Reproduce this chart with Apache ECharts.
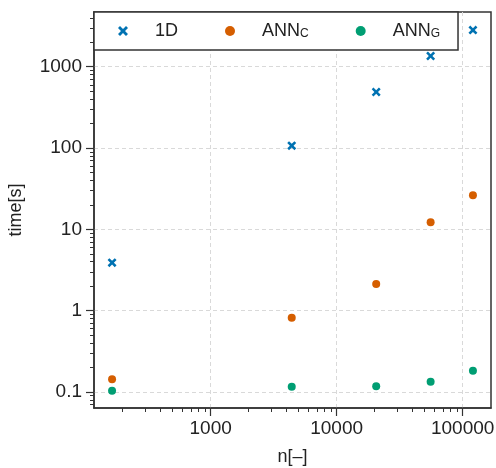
<!DOCTYPE html>
<html>
<head>
<meta charset="utf-8">
<script src="https://cdn.jsdelivr.net/npm/echarts@6/dist/echarts.min.js"></script>
<style>
html, body { margin: 0; padding: 0; background: #fff; }
#chart { width: 496px; height: 468px; }
</style>
</head>
<body>
<div id="chart"></div>
<script>
// data
var seriesNames = ['1D', 'ANN_C', 'ANN_G'];
var nValues = [165, 4400, 20600, 55700, 120700];
var time1D = [3.9, 107, 489, 1353, 2820];
var timeANNC = [0.144, 0.82, 2.13, 12.2, 26.2];
var timeANNG = [0.104, 0.116, 0.118, 0.134, 0.183];

var xTicks = [1000, 10000, 100000];
var yTicks = [0.1, 1, 10, 100, 1000];
var xRange = [118.6, 167900];
var yRange = [0.0636, 4710];

var colors = ['#0072B2', '#D55E00', '#009E73'];
var font = 'Liberation Sans, Arial, sans-serif';
var crossPath = 'path://M0,2L2,0L5,3L8,0L10,2L7,5L10,8L8,10L5,7L2,10L0,8L3,5Z';

// minor ticks at 2..9 of each decade
function minorTicks(range) {
	var out = [];
	for (var e = -3; e <= 6; e++) {
		for (var k = 2; k <= 9; k++) {
			var v = k * Math.pow(10, e);
			if (v > range[0] && v < range[1]) out.push(v);
		}
	}
	return out;
}

function pairs(xs, ys) {
	var d = [];
	for (var i = 0; i < xs.length; i++) d.push([xs[i], ys[i]]);
	return d;
}

function plainLabel(v) {
	return String(v);
}

var myChart = echarts.init(document.getElementById('chart'));

var option = {
	animation: false,
	backgroundColor: '#fff',
	color: colors,
	grid: {
		left: 94, right: 5, top: 12, bottom: 60,
		outerBoundsMode: 'none',
		containLabel: false,
		show: true, borderColor: '#333', borderWidth: 1.5
	},
	legend: {
		left: 94, top: 12,
		orient: 'horizontal',
		padding: [10, 18, 10, 24],
		itemWidth: 10, itemHeight: 10, itemGap: 47,
		backgroundColor: '#fff',
		borderColor: '#333', borderWidth: 1.5, borderRadius: 0,
		z: 10,
		data: seriesNames,
		formatter: function(name) {
			return name.replace(/_(\w+)/, '{sub|$1}');
		},
		textStyle: {
			fontFamily: font, fontSize: 18, color: '#222',
			padding: [0, 0, 0, 22],
			rich: {
				sub: { fontFamily: font, fontSize: 12, color: '#222', verticalAlign: 'bottom', padding: [6, 0, 0, 0] }
			}
		}
	},
	xAxis: [{
		type: 'log', logBase: 10,
		min: xRange[0], max: xRange[1],
		name: 'n[\u2013]', nameLocation: 'middle', nameGap: 40,
		nameTextStyle: { fontFamily: font, fontSize: 18, color: '#222' },
		axisLine: { show: true, lineStyle: { color: '#333', width: 1.5 } },
		axisTick: { show: true, length: 8, lineStyle: { color: '#333', width: 1.2 }, customValues: xTicks },
		axisLabel: { fontFamily: font, fontSize: 19, color: '#222', margin: 11, customValues: xTicks, formatter: plainLabel },
		splitLine: { show: true, lineStyle: { color: '#d9d9d9', type: [4, 3], width: 1 } }
	}, {
		type: 'log', logBase: 10,
		min: xRange[0], max: xRange[1],
		position: 'bottom',
		axisLine: { show: false },
		axisTick: { show: true, length: 4, lineStyle: { color: '#333', width: 1 }, customValues: minorTicks(xRange) },
		axisLabel: { show: false },
		splitLine: { show: false }
	}],
	yAxis: [{
		type: 'log', logBase: 10,
		min: yRange[0], max: yRange[1],
		name: 'time[s]', nameLocation: 'middle', nameGap: 69,
		nameTextStyle: { fontFamily: font, fontSize: 18, color: '#222' },
		axisLine: { show: true, lineStyle: { color: '#333', width: 1.5 } },
		axisTick: { show: true, length: 8, lineStyle: { color: '#333', width: 1.2 }, customValues: yTicks },
		axisLabel: { fontFamily: font, fontSize: 19, color: '#222', margin: 12, customValues: yTicks, formatter: plainLabel },
		splitLine: { show: true, lineStyle: { color: '#d9d9d9', type: [4, 3], width: 1 } }
	}, {
		type: 'log', logBase: 10,
		min: yRange[0], max: yRange[1],
		position: 'left',
		axisLine: { show: false },
		axisTick: { show: true, length: 4, lineStyle: { color: '#333', width: 1 }, customValues: minorTicks(yRange) },
		axisLabel: { show: false },
		splitLine: { show: false }
	}],
	series: [{
		name: seriesNames[0], type: 'scatter',
		symbol: crossPath, symbolSize: 9,
		itemStyle: { opacity: 1 },
		data: pairs(nValues, time1D)
	}, {
		name: seriesNames[1], type: 'scatter',
		symbol: 'circle', symbolSize: 8,
		itemStyle: { opacity: 1 },
		data: pairs(nValues, timeANNC)
	}, {
		name: seriesNames[2], type: 'scatter',
		symbol: 'circle', symbolSize: 8,
		itemStyle: { opacity: 1 },
		data: pairs(nValues, timeANNG)
	}]
};

myChart.setOption(option);
</script>
</body>
</html>
